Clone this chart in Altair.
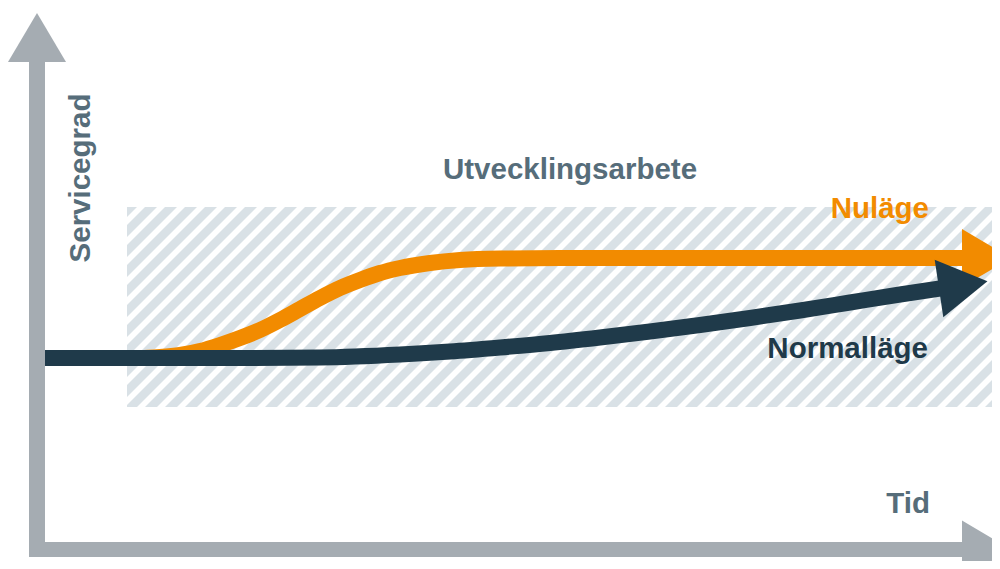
import math
import altair as alt
import pandas as pd

# ---------------- data (page pixel coordinates of the concept diagram) ----------------
orange_x = [45, 140, 160, 180, 200, 220, 240, 260, 280, 300, 320, 340, 360, 380, 400, 430, 460, 500, 560, 962]
orange_y = [358, 358, 357, 355, 351, 345, 338, 330, 320, 309, 298, 288, 280, 273, 268, 263, 260, 258.5, 258, 258]

navy_x = [45, 250, 320, 400, 450, 500, 550, 600, 650, 700, 750, 800, 850, 900, 940]
navy_y = [358, 358, 357.5, 354.5, 351.5, 347.5, 343, 337.5, 331.5, 325, 318, 310.5, 302.5, 294.5, 288.5]

label_text = ["Servicegrad", "Utvecklingsarbete", "Nuläge", "Normalläge", "Tid"]
label_x = [90, 570, 929, 928, 930]
label_y = [178, 179, 218, 358, 513]

# hatched band (Utvecklingsarbete)
band = dict(x0=127, x1=1000, y0=207, y1=407)

ORANGE = "#f28b00"
NAVY = "#1f3a4a"
GRAY = "#a5acb2"
HATCH = "#d9e1e6"
SLATE = "#566d7a"

W, H = 984, 553
xs = alt.Scale(domain=[8, 8 + W], nice=False, zero=False)
ys = alt.Scale(domain=[8, 8 + H], nice=False, zero=False, reverse=True)


def X(f="x"):
    return alt.X(f"{f}:Q", scale=xs, axis=None)


def Y(f="y"):
    return alt.Y(f"{f}:Q", scale=ys, axis=None)


# ---------------- hatch stripes (clipped to band + margin, edges masked) ----------------
period = 20
m = 8
xa, xb = band["x0"] - m, band["x1"] + m
ya, yb = band["y0"] - m, band["y1"] + m
rows = []
c = xa + ya
while c <= xb + yb:
    lo = max(xa, c - yb)
    hi = min(xb, c - ya)
    if hi > lo:
        rows.append(dict(x=lo, y=c - lo, x2=hi, y2=c - hi))
    c += period
stripes_df = pd.DataFrame(rows)
stripes = alt.Chart(stripes_df).mark_rule(color=HATCH, strokeWidth=8.5, strokeCap="butt").encode(
    x=X(), y=Y(), x2="x2:Q", y2="y2:Q"
)

mk = 20
mask_df = pd.DataFrame([
    dict(x=band["x0"] - mk, x2=band["x1"] + mk, y=band["y0"] - mk, y2=band["y0"]),
    dict(x=band["x0"] - mk, x2=band["x1"] + mk, y=band["y1"], y2=band["y1"] + mk),
    dict(x=band["x0"] - mk, x2=band["x0"], y=band["y0"] - mk, y2=band["y1"] + mk),
])
masks = alt.Chart(mask_df).mark_rect(color="white").encode(x=X(), x2="x2:Q", y=Y(), y2="y2:Q")

# ---------------- curves ----------------
orange_df = pd.DataFrame(dict(x=orange_x, y=orange_y, i=range(len(orange_x))))
navy_df = pd.DataFrame(dict(x=navy_x, y=navy_y, i=range(len(navy_x))))

orange_line = alt.Chart(orange_df).mark_line(
    color=ORANGE, strokeWidth=16, interpolate="monotone", strokeCap="butt"
).encode(x=X(), y=Y(), order="i:Q")
navy_line = alt.Chart(navy_df).mark_line(
    color=NAVY, strokeWidth=16, interpolate="monotone", strokeCap="butt"
).encode(x=X(), y=Y(), order="i:Q")

# ---------------- arrowheads ----------------
HEAD_LEN, HEAD_W = 49, 58
half = HEAD_LEN / HEAD_W
TRI = f"M{-half:.4f},-1L{half:.4f},0L{-half:.4f},1Z"


def head(bx, by, ang_deg, color):
    a = math.radians(ang_deg)
    return dict(
        x=bx + HEAD_LEN / 2 * math.cos(a),
        y=by + HEAD_LEN / 2 * math.sin(a),
        angle=ang_deg % 360,
        color=color,
    )


navy_ang = math.degrees(math.atan2(navy_y[-1] - navy_y[-2], navy_x[-1] - navy_x[-2]))
heads_df = pd.DataFrame([
    head(orange_x[-1], orange_y[-1], 0, ORANGE),
    head(navy_x[-1] - 1, navy_y[-1], navy_ang, NAVY),
    head(962, 549.5, 0, GRAY),
    head(37, 62, -90, GRAY),
])
heads = alt.Chart(heads_df).mark_point(
    shape=TRI, size=HEAD_W ** 2, filled=True, opacity=1, strokeWidth=0
).encode(
    x=X(), y=Y(),
    angle=alt.Angle("angle:Q", scale=None),
    color=alt.Color("color:N", scale=None),
)

# ---------------- axes ----------------
axes_df = pd.DataFrame([
    dict(x=37, y=557, x2=37, y2=61, w=16),
    dict(x=29, y=549.5, x2=963, y2=549.5, w=15),
])
axes = alt.Chart(axes_df).mark_rule(color=GRAY, strokeCap="butt").encode(
    x=X(), y=Y(), x2="x2:Q", y2="y2:Q", strokeWidth=alt.StrokeWidth("w:Q", scale=None)
)

# ---------------- labels ----------------
lab_df = pd.DataFrame(dict(
    text=label_text, x=label_x, y=label_y,
    color=[SLATE, SLATE, ORANGE, NAVY, SLATE],
))
font = dict(font="Liberation Sans", fontSize=29.5, fontWeight="bold", baseline="alphabetic")
t_serv = alt.Chart(lab_df.iloc[[0]]).mark_text(align="center", angle=270, **font).encode(
    x=X(), y=Y(), text="text:N", color=alt.Color("color:N", scale=None))
t_mid = alt.Chart(lab_df.iloc[[1]]).mark_text(align="center", **font).encode(
    x=X(), y=Y(), text="text:N", color=alt.Color("color:N", scale=None))
t_right = alt.Chart(lab_df.iloc[[2, 3, 4]]).mark_text(align="right", **font).encode(
    x=X(), y=Y(), text="text:N", color=alt.Color("color:N", scale=None))

chart = alt.layer(
    stripes, masks, orange_line, navy_line, heads, axes, t_serv, t_mid, t_right
).properties(
    width=W, height=H, padding=0, autosize=alt.AutoSizeParams(type="none"), background="white"
).configure_view(stroke=None)

chart.save("out.html", embed_options={"renderer": "svg", "actions": False})
